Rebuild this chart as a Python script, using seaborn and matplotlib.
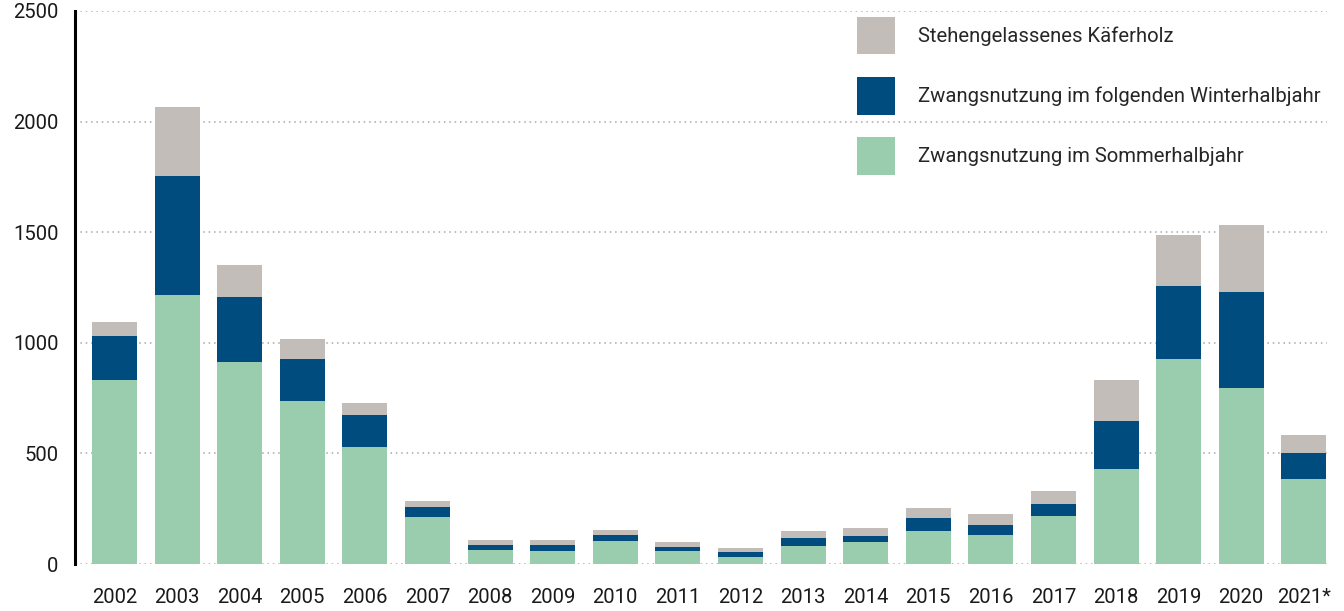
import matplotlib
matplotlib.use("Agg")
import matplotlib.pyplot as plt
import matplotlib.patches as mpatches
import seaborn as sns
import pandas as pd
import numpy as np

years = ["2002", "2003", "2004", "2005", "2006", "2007", "2008", "2009", "2010", "2011",
         "2012", "2013", "2014", "2015", "2016", "2017", "2018", "2019", "2020", "2021*"]
sommer = [830, 1215, 911, 739, 531, 213, 63, 59, 104, 59,
          32, 81, 99, 147, 129, 215, 431, 926, 795, 386]
winter = [203, 537, 295, 190, 141, 46, 23, 27, 27, 18,
          22, 36, 28, 59, 49, 54, 217, 330, 434, 118]
stehen = [60, 313, 144, 86, 54, 27, 22, 22, 23, 22,
          18, 32, 36, 45, 50, 59, 183, 230, 302, 81]

labels = ["Stehengelassenes Käferholz",
          "Zwangsnutzung im folgenden Winterhalbjahr",
          "Zwangsnutzung im Sommerhalbjahr"]
c_grey = "#C2BDB8"
c_blue = "#004C7E"
c_green = "#99CDAE"

df = pd.DataFrame({"Jahr": years, "sommer": sommer, "winter": winter, "stehen": stehen})
df["bis_winter"] = df["sommer"] + df["winter"]
df["gesamt"] = df["bis_winter"] + df["stehen"]

sns.set_style("white")
plt.rcParams["font.family"] = ["Roboto", "DejaVu Sans"]

fig = plt.figure(figsize=(13.44, 6.11), dpi=100)
ax = fig.add_axes([75 / 1344, 47 / 611, (1327 - 75) / 1344, (564 - 11) / 611])

w = 0.72
sns.barplot(data=df, x="Jahr", y="gesamt", color=c_grey, width=w, saturation=1,
            linewidth=0, ax=ax, zorder=3)
sns.barplot(data=df, x="Jahr", y="bis_winter", color=c_blue, width=w, saturation=1,
            linewidth=0, ax=ax, zorder=3)
sns.barplot(data=df, x="Jahr", y="sommer", color=c_green, width=w, saturation=1,
            linewidth=0, ax=ax, zorder=3)

ax.set_ylim(0, 2500)
ax.set_xlim(-0.63, 19.37)
ax.set_yticks([0, 500, 1000, 1500, 2000, 2500])
ax.set_xlabel("")
ax.set_ylabel("")
ax.grid(axis="y", linestyle=(0, (1, 2.5)), color="#a8a8a8", linewidth=1.1, zorder=0)
ax.set_axisbelow(True)
for s in ["top", "right", "bottom"]:
    ax.spines[s].set_visible(False)
ax.spines["left"].set_linewidth(2.2)
ax.spines["left"].set_color("black")
ax.tick_params(axis="both", length=0, labelsize=14.6, colors="#1a1a1a")
ax.tick_params(axis="x", pad=17)
ax.tick_params(axis="y", pad=12)

handles = [mpatches.Patch(facecolor=c, edgecolor="none") for c in (c_grey, c_blue, c_green)]
ax.legend(handles, labels, loc="upper left", bbox_to_anchor=(0.6246, 0.99), frameon=False,
          fontsize=14.6, handlelength=1.87, handleheight=2.5, labelspacing=1.1,
          handletextpad=1.15, borderpad=0, borderaxespad=0)

fig.savefig("out.png", dpi=100)
